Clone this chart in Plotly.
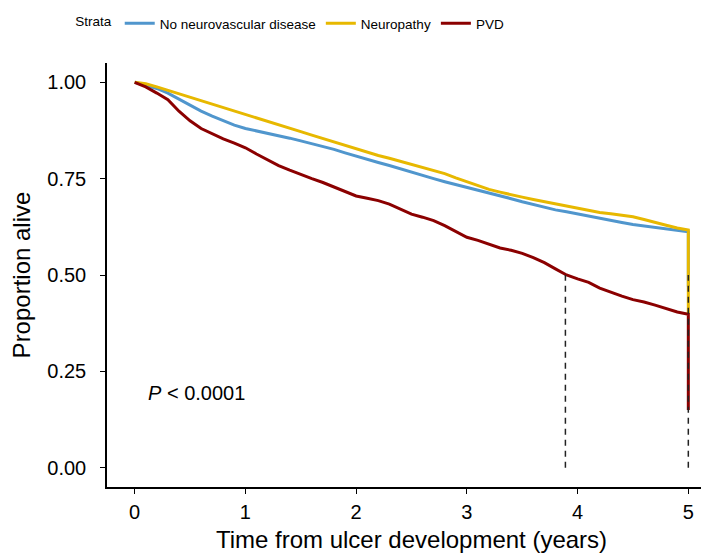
import plotly.graph_objects as go

# tempo (anos) e proporção de vivos
time_years = [0.0, 0.1, 0.2, 0.3, 0.4, 0.5, 0.6, 0.7, 0.8, 0.9,
              1.0, 1.1, 1.2, 1.3, 1.4, 1.5, 1.6, 1.7, 1.8, 1.9,
              2.0, 2.1, 2.2, 2.3, 2.4, 2.5, 2.6, 2.7, 2.8, 2.9,
              3.0, 3.1, 3.2, 3.3, 3.4, 3.5, 3.6, 3.7, 3.8, 3.9,
              4.0, 4.1, 4.2, 4.3, 4.4, 4.5, 4.6, 4.7, 4.8, 4.9, 5.0, 5.0]

no_neuro = [1.000, 0.993, 0.984, 0.972, 0.956, 0.940, 0.925, 0.912, 0.900, 0.889,
            0.880, 0.874, 0.868, 0.862, 0.855, 0.848, 0.841, 0.834, 0.826, 0.817,
            0.808, 0.800, 0.792, 0.784, 0.775, 0.766, 0.758, 0.750, 0.742, 0.735,
            0.728, 0.721, 0.714, 0.706, 0.698, 0.690, 0.683, 0.676, 0.669, 0.664,
            0.658, 0.653, 0.647, 0.642, 0.636, 0.631, 0.627, 0.624, 0.620, 0.616, 0.612, 0.470]

neuropathy = [1.000, 0.996, 0.988, 0.979, 0.971, 0.962, 0.953, 0.943, 0.934, 0.925,
              0.915, 0.907, 0.899, 0.890, 0.881, 0.872, 0.863, 0.854, 0.845, 0.836,
              0.826, 0.818, 0.810, 0.803, 0.795, 0.788, 0.780, 0.772, 0.763, 0.752,
              0.742, 0.732, 0.722, 0.715, 0.708, 0.702, 0.696, 0.690, 0.684, 0.678,
              0.672, 0.667, 0.662, 0.659, 0.655, 0.651, 0.644, 0.636, 0.629, 0.622, 0.617, 0.400]

pvd = [1.000, 0.988, 0.972, 0.955, 0.925, 0.900, 0.880, 0.866, 0.853, 0.842,
       0.830, 0.814, 0.798, 0.784, 0.772, 0.760, 0.750, 0.740, 0.728, 0.716,
       0.705, 0.699, 0.693, 0.684, 0.670, 0.658, 0.650, 0.641, 0.628, 0.612,
       0.598, 0.590, 0.580, 0.570, 0.564, 0.556, 0.545, 0.532, 0.516, 0.500,
       0.490, 0.481, 0.466, 0.455, 0.445, 0.436, 0.430, 0.422, 0.412, 0.404, 0.398, 0.150]

# medianas (linhas tracejadas)
median_times = [3.89, 5.0]
median_level = 0.5

series_names = ['No neurovascular disease', 'Neuropathy', 'PVD']
series_colors = ['#5096CD', '#E7B800', '#8B0000']
series_values = [no_neuro, neuropathy, pvd]

font_family = 'Liberation Sans, Arial, sans-serif'

fig = go.Figure()

for name, color, values in zip(series_names, series_colors, series_values):
    fig.add_trace(go.Scatter(
        x=time_years,
        y=values,
        mode='lines',
        name=name,
        line=dict(color=color, width=3)
    ))

# linhas verticais da mediana
for t in median_times:
    fig.add_trace(go.Scatter(
        x=[t, t],
        y=[0, median_level],
        mode='lines',
        showlegend=False,
        line=dict(color='#222222', width=1.5, dash='6px,5px')
    ))

fig.add_annotation(
    x=0.1, y=0.195, xref='x', yref='y',
    text='<i>P</i> < 0.0001',
    showarrow=False, xanchor='left', yanchor='middle',
    font=dict(size=20, color='black', family=font_family)
)

fig.update_layout(
    width=709,
    height=554,
    margin=dict(l=99, r=1, t=55, b=75, autoexpand=False),
    plot_bgcolor='white',
    paper_bgcolor='white',
    font=dict(family=font_family, color='black'),
    legend=dict(
        orientation='h',
        x=0.092, xref='container', xanchor='left',
        y=1.0, yref='container', yanchor='top',
        title=dict(text='Strata', font=dict(size=13.5)),
        font=dict(size=13.5),
        itemwidth=30,
        tracegroupgap=0
    ),
    xaxis=dict(
        range=[-0.25, 5.25],
        tickvals=[0, 1, 2, 3, 4, 5],
        showgrid=False, zeroline=False,
        showline=True, linecolor='black', linewidth=1.5,
        ticks='outside', ticklen=5, tickcolor='black',
        ticklabelstandoff=1,
        tickfont=dict(size=20),
        title=dict(text='Time from ulcer development (years)', font=dict(size=24), standoff=9)
    ),
    yaxis=dict(
        range=[-0.05, 1.05],
        tickvals=[0, 0.25, 0.5, 0.75, 1.0],
        ticktext=['0.00', '0.25', '0.50', '0.75', '1.00'],
        showgrid=False, zeroline=False,
        showline=True, linecolor='black', linewidth=1.5,
        ticks='outside', ticklen=5, tickcolor='black',
        ticklabelstandoff=10,
        tickfont=dict(size=20),
        title=dict(text='Proportion alive', font=dict(size=24), standoff=18)
    )
)

fig.write_html('out.html')
